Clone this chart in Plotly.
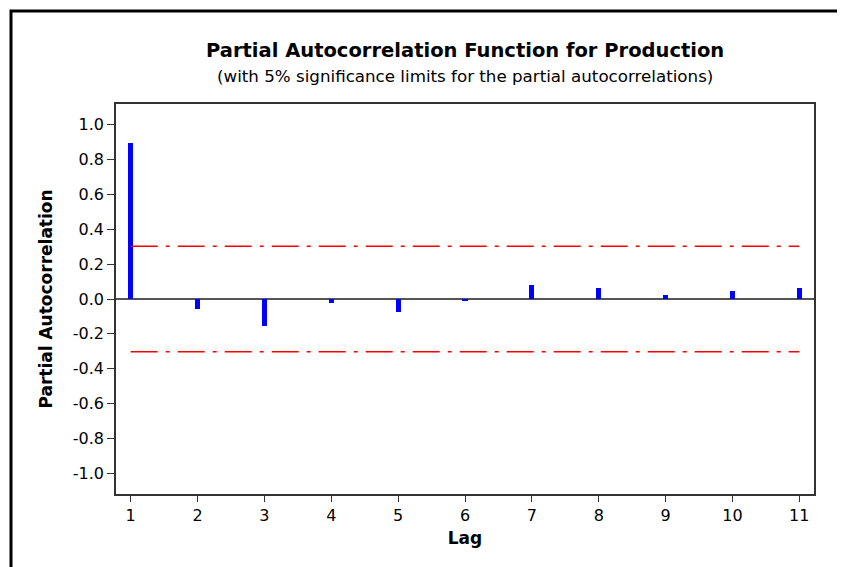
import plotly.graph_objects as go

lags = [1, 2, 3, 4, 5, 6, 7, 8, 9, 10, 11]
pacf = [0.895, -0.06, -0.153, -0.025, -0.077, -0.006, 0.080, 0.063, 0.023, 0.046, 0.063]
sig_limit = 0.303
y_tick_vals = [1.0, 0.8, 0.6, 0.4, 0.2, 0.0, -0.2, -0.4, -0.6, -0.8, -1.0]
y_tick_text = ["1.0", "0.8", "0.6", "0.4", "0.2", "0.0", "-0.2", "-0.4", "-0.6", "-0.8", "-1.0"]

FONT = "DejaVu Sans"
OFF = 8  # page body margin offset

W, H = 845 - OFF, 567 - OFF
L, T, R, B = 116 - OFF, 104 - OFF, 31, 73
PH = H - T - B

fig = go.Figure()
fig.add_trace(go.Bar(x=lags, y=pacf, width=0.075, marker=dict(color="#0000FF", line=dict(width=0)),
                     showlegend=False))
for s in (sig_limit, -sig_limit):
    fig.add_trace(go.Scatter(x=[lags[0], lags[-1]], y=[s, s], mode="lines",
                             line=dict(color="#FF0000", width=1.3, dash="27px,8px,4px,8px"),
                             showlegend=False))

PW = W - L - R
fig.add_shape(type="rect", xref="paper", yref="paper",
              x0=(11 - 116) / PW, x1=1.3, y0=-0.4, y1=(494 - 11) / PH,
              line=dict(color="black", width=3))

fig.update_layout(
    width=W, height=H,
    margin=dict(l=L, r=R, t=T, b=B),
    paper_bgcolor="white", plot_bgcolor="white",
    font=dict(family=FONT, size=15, color="black"),
    bargap=0,
    annotations=[
        dict(text="<b>Partial Autocorrelation Function for Production</b>", xref="paper", yref="paper",
             x=0.5, y=1.0 + (104 - 50) / PH, xanchor="center", yanchor="middle", showarrow=False,
             font=dict(family=FONT, size=19.5, color="black")),
        dict(text="(with 5% significance limits for the partial autocorrelations)", xref="paper", yref="paper",
             x=0.5, y=1.0 + (104 - 76) / PH, xanchor="center", yanchor="middle", showarrow=False,
             font=dict(family=FONT, size=16.7, color="black")),
    ],
)
fig.update_xaxes(range=[0.78, 11.22], tickvals=lags, ticks="outside", ticklen=6, tickcolor="#333",
                 showline=True, linecolor="#333", linewidth=1.5, mirror=True, showgrid=False, zeroline=False,
                 title=dict(text="<b>Lag</b>", font=dict(family=FONT, size=17), standoff=8),
                 tickfont=dict(family=FONT, size=16))
fig.update_yaxes(range=[-1.12, 1.12], tickvals=y_tick_vals, ticktext=y_tick_text, ticks="outside", ticklen=7,
                 tickcolor="#333", showline=True, linecolor="#333", linewidth=1.5, mirror=True, showgrid=False,
                 zeroline=True, zerolinecolor="#555", zerolinewidth=1.5,
                 title=dict(text="<b>Partial Autocorrelation</b>", font=dict(family=FONT, size=17), standoff=16),
                 tickfont=dict(family=FONT, size=16))

fig.write_html("out.html")
